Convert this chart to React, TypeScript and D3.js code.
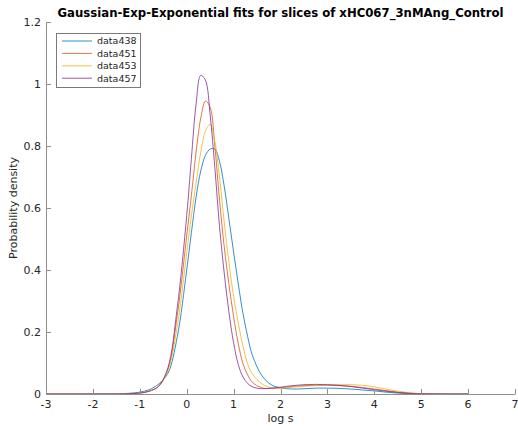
import React from 'react';
import * as d3 from 'd3';

const X_VALUES = [-3, -2, -1.5, -1.25, -1, -0.8, -0.6, -0.4, -0.2, 0, 0.1, 0.2, 0.3, 0.4, 0.5, 0.6, 0.7, 0.8, 0.9, 1.0, 1.1, 1.2, 1.3, 1.4, 1.6, 1.8, 2.0, 2.25, 2.5, 2.75, 3.0, 3.25, 3.5, 3.75, 4.0, 4.25, 4.5, 4.75, 5.0, 5.5, 6.0];

const DATA438 = [0, 0, 0.0005, 0.002, 0.006, 0.014, 0.032, 0.067, 0.185, 0.40, 0.52, 0.635, 0.72, 0.77, 0.79, 0.79, 0.75, 0.67, 0.565, 0.458, 0.355, 0.26, 0.185, 0.125, 0.06, 0.03, 0.02, 0.016, 0.017, 0.019, 0.019, 0.018, 0.016, 0.013, 0.010, 0.006, 0.003, 0.001, 0, 0, 0];
const DATA451 = [0, 0, 0, 0.001, 0.003, 0.009, 0.025, 0.08, 0.255, 0.51, 0.64, 0.78, 0.89, 0.945, 0.925, 0.80, 0.625, 0.475, 0.355, 0.25, 0.162, 0.098, 0.062, 0.038, 0.02, 0.018, 0.02, 0.024, 0.027, 0.028, 0.028, 0.027, 0.025, 0.021, 0.016, 0.011, 0.006, 0.003, 0.001, 0, 0];
const DATA453 = [0, 0, 0, 0.001, 0.003, 0.009, 0.024, 0.075, 0.22, 0.455, 0.575, 0.68, 0.78, 0.848, 0.87, 0.815, 0.70, 0.555, 0.425, 0.315, 0.228, 0.155, 0.097, 0.065, 0.033, 0.02, 0.019, 0.022, 0.025, 0.027, 0.029, 0.030, 0.030, 0.028, 0.023, 0.016, 0.009, 0.004, 0.001, 0, 0];
const DATA457 = [0, 0, 0, 0.001, 0.003, 0.009, 0.025, 0.085, 0.28, 0.575, 0.76, 0.935, 1.028, 1.012, 0.9, 0.73, 0.54, 0.39, 0.265, 0.165, 0.095, 0.055, 0.034, 0.023, 0.017, 0.019, 0.022, 0.027, 0.030, 0.031, 0.030, 0.028, 0.024, 0.019, 0.014, 0.009, 0.005, 0.002, 0.001, 0, 0];

const SERIES_NAMES = ['data438', 'data451', 'data453', 'data457'];
const SERIES_VALUES = [DATA438, DATA451, DATA453, DATA457];
const SERIES_COLORS = ['#0072BD', '#D95319', '#EDB120', '#7E2F8E'];

const X_TICKS = [-3, -2, -1, 0, 1, 2, 3, 4, 5, 6, 7];
const Y_TICKS = [0, 0.2, 0.4, 0.6, 0.8, 1, 1.2];

const TITLE = 'Gaussian-Exp-Exponential fits for slices of xHC067_3nMAng_Control';
const X_LABEL = 'log s';
const Y_LABEL = 'Probability density';

export default function App() {
  const W = 518;
  const H = 430;
  const left = 46, right = 515, top = 22, bottom = 394;
  const x = d3.scaleLinear().domain([-3, 7]).range([left, right]);
  const y = d3.scaleLinear().domain([0, 1.2]).range([bottom, top]);
  const line = d3
    .line<number>()
    .x((_, i) => x(X_VALUES[i]))
    .y((d) => y(d))
    .curve(d3.curveCatmullRom.alpha(0.5));

  const font = 'DejaVu Sans, sans-serif';
  const axisColor = '#8f8f8f';
  const textColor = '#262626';

  const legX = 56.5, legY = 33.5, legW = 84, legH = 54;
  const legRows = [41, 53.4, 65.8, 78.2];

  return (
    <svg
      width={W}
      height={H}
      style={{ position: 'absolute', left: 0, top: 0, background: '#fff' }}
      fontFamily={font}
    >
      <rect x={0} y={0} width={W} height={H} fill="#fff" />
      {SERIES_VALUES.map((vals, i) => (
        <path key={i} d={line(vals) || ''} fill="none" stroke={SERIES_COLORS[i]} strokeWidth={0.8} />
      ))}
      <line x1={left + 0.5} x2={left + 0.5} y1={top} y2={bottom + 0.5} stroke={axisColor} strokeWidth={1} />
      <line x1={left} x2={right + 0.5} y1={bottom + 0.5} y2={bottom + 0.5} stroke={axisColor} strokeWidth={1} />
      {Y_TICKS.map((t) => (
        <g key={'y' + t}>
          <line x1={left} x2={left + 5} y1={Math.round(y(t)) + 0.5} y2={Math.round(y(t)) + 0.5} stroke={axisColor} strokeWidth={1} />
          <text x={left - 5} y={y(t)} dy="0.35em" textAnchor="end" fontSize={11} fill={textColor}>
            {String(t)}
          </text>
        </g>
      ))}
      {X_TICKS.map((t) => (
        <g key={'x' + t}>
          <line x1={Math.round(x(t)) + 0.5} x2={Math.round(x(t)) + 0.5} y1={bottom} y2={bottom - 5} stroke={axisColor} strokeWidth={1} />
          <text x={x(t)} y={bottom + 14} textAnchor="middle" fontSize={11} fill={textColor}>
            {String(t)}
          </text>
        </g>
      ))}
      <text x={(left + right) / 2} y={17} textAnchor="middle" fontSize={11.7} fontWeight="bold" fill="#000">
        {TITLE}
      </text>
      <text x={(left + right) / 2} y={421.5} textAnchor="middle" fontSize={11} fill={textColor}>
        {X_LABEL}
      </text>
      <text
        transform={`translate(17, ${(top + bottom) / 2}) rotate(-90)`}
        textAnchor="middle"
        fontSize={11}
        fill={textColor}
      >
        {Y_LABEL}
      </text>
      <rect x={legX} y={legY} width={legW} height={legH} fill="#fff" stroke="#7a7a7a" strokeWidth={1} />
      {SERIES_NAMES.map((name, i) => (
        <g key={name}>
          <line x1={62} x2={92} y1={legRows[i]} y2={legRows[i]} stroke={SERIES_COLORS[i]} strokeWidth={0.8} />
          <text x={97} y={legRows[i]} dy="0.35em" fontSize={9.5} fill={textColor}>
            {name}
          </text>
        </g>
      ))}
    </svg>
  );
}
